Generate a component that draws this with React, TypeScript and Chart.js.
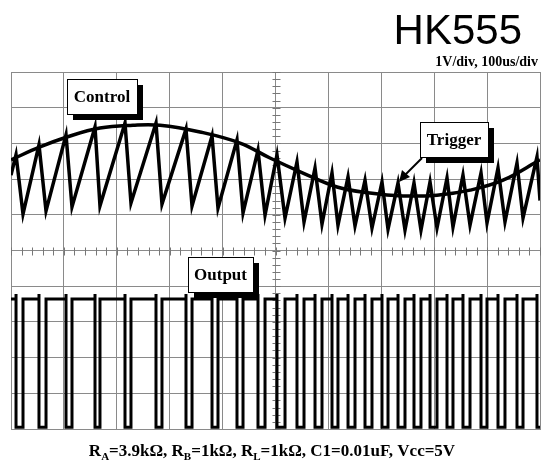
import React, { useEffect, useRef } from "react";
import { Chart, registerables } from "chart.js";

Chart.register(...registerables);

// ---- text ----
const titleText = "HK555";
const scaleText = "1V/div, 100us/div";
const captionParts: [string, boolean][] = [
  ["R", false], ["A", true], ["=3.9kΩ, R", false], ["B", true],
  ["=1kΩ, R", false], ["L", true], ["=1kΩ, C1=0.01uF, Vcc=5V", false],
];
const labelControl = "Control";
const labelTrigger = "Trigger";
const labelOutput = "Output";

// ---- axes (time in us, volts in V; 10 x 10 divisions) ----
const timeMin = 0;
const timeMax = 1000;
const timeStep = 100;
const voltMin = -5;
const voltMax = 5;
const voltStep = 1;

// ---- control (capacitor) sawtooth ----
const sawStartTime = 0;
const sawStartVolt = 2.11;
const peakTimes = [9.5, 52.9, 104.0, 158.8, 215.5, 274.1, 330.8, 380.0, 427.2, 466.9, 502.8, 540.6, 574.7, 606.8, 637.1, 669.2, 701.3, 731.6, 761.8, 792.1, 824.2, 854.4, 888.5, 920.6, 956.5, 994.3];
const peakVolts = [2.68, 2.96, 3.24, 3.46, 3.57, 3.57, 3.40, 3.21, 3.10, 2.81, 2.68, 2.48, 2.31, 2.17, 2.06, 1.97, 1.92, 1.89, 1.89, 1.92, 2.03, 2.11, 2.17, 2.31, 2.45, 2.62];
const troughTimes = [22.7, 66.2, 115.3, 168.2, 226.8, 285.4, 342.2, 391.3, 438.6, 480.2, 518.0, 553.9, 587.9, 618.1, 650.3, 682.4, 712.7, 744.8, 775.0, 805.3, 835.5, 867.7, 899.8, 933.8, 967.9, 1000];
const troughVolts = [1.02, 1.11, 1.22, 1.25, 1.33, 1.30, 1.25, 1.19, 1.05, 0.99, 0.91, 0.80, 0.74, 0.71, 0.69, 0.63, 0.60, 0.57, 0.57, 0.63, 0.66, 0.71, 0.77, 0.80, 0.91, 1.40];

// ---- control voltage (modulating input) ----
const envTimes = [0, 54.8, 105.9, 168.2, 230.6, 281.7, 357.3, 432.9, 489.6, 552.0, 616.3, 678.6, 741.0, 805.3, 867.7, 930.1, 1000];
const envVolts = [2.54, 2.90, 3.18, 3.43, 3.51, 3.51, 3.32, 3.01, 2.59, 2.17, 1.78, 1.61, 1.53, 1.55, 1.69, 1.97, 2.54];

// ---- output levels ----
const outHigh = -1.36;
const outLow = -4.95;
const outSpike = -1.22;

type P = { x: number; y: number };

function buildControl(): P[] {
  const pts: P[] = [{ x: sawStartTime, y: sawStartVolt }];
  for (let i = 0; i < peakTimes.length; i++) {
    pts.push({ x: peakTimes[i], y: peakVolts[i] });
    pts.push({ x: troughTimes[i], y: troughVolts[i] });
  }
  return pts;
}

function buildEnvelope(): P[] {
  return envTimes.map((t, i) => ({ x: t, y: envVolts[i] }));
}

function buildOutput(): P[] {
  const pts: P[] = [{ x: timeMin, y: outHigh }];
  for (let i = 0; i < peakTimes.length; i++) {
    const tf = peakTimes[i];
    pts.push({ x: tf, y: outHigh });
    pts.push({ x: tf, y: outSpike });
    pts.push({ x: tf, y: outLow });
    const tr = troughTimes[i];
    pts.push({ x: tr, y: outLow });
    if (tr < timeMax) pts.push({ x: tr, y: outHigh });
  }
  return pts;
}

const FONT_SERIF = '"Liberation Serif", "Times New Roman", serif';
const FONT_SANS = '"Liberation Sans", Arial, sans-serif';

function drawBox(ctx: CanvasRenderingContext2D, x: number, y: number, w: number, h: number, text: string) {
  ctx.save();
  ctx.fillStyle = "#000";
  ctx.fillRect(x + 6, y + 6, w, h);
  ctx.fillStyle = "#fff";
  ctx.fillRect(x, y, w, h);
  ctx.strokeStyle = "#000";
  ctx.lineWidth = 1;
  ctx.strokeRect(x + 0.5, y + 0.5, w, h);
  ctx.fillStyle = "#000";
  ctx.font = `bold 17px ${FONT_SERIF}`;
  ctx.textAlign = "center";
  ctx.textBaseline = "middle";
  ctx.fillText(text, x + w / 2, y + h / 2 + 1);
  ctx.restore();
}

const scopePlugin = {
  id: "scopeDecor",
  beforeDatasetsDraw(chart: any) {
    const ctx: CanvasRenderingContext2D = chart.ctx;
    const xs = chart.scales.x;
    const ys = chart.scales.y;
    const cx = Math.round(xs.getPixelForValue((timeMin + timeMax) / 2)) + 0.5;
    const cy = Math.round(ys.getPixelForValue((voltMin + voltMax) / 2)) + 0.5;
    ctx.save();
    ctx.strokeStyle = "#777";
    ctx.lineWidth = 1;
    ctx.beginPath();
    for (let t = timeMin; t <= timeMax; t += timeStep / 5) {
      const px = Math.round(xs.getPixelForValue(t)) + 0.5;
      ctx.moveTo(px, cy - 4);
      ctx.lineTo(px, cy + 4);
    }
    for (let k = 0; k <= 50; k++) {
      const v = voltMin + (k * voltStep) / 5;
      const py = Math.round(ys.getPixelForValue(v)) + 0.5;
      ctx.moveTo(cx - 4, py);
      ctx.lineTo(cx + 4, py);
    }
    ctx.stroke();
    ctx.restore();
  },
  afterDraw(chart: any) {
    const ctx: CanvasRenderingContext2D = chart.ctx;
    ctx.save();
    // title
    ctx.fillStyle = "#000";
    ctx.font = `42px ${FONT_SANS}`;
    ctx.textAlign = "right";
    ctx.textBaseline = "alphabetic";
    ctx.fillText(titleText, 522, 44);
    ctx.font = `bold 14px ${FONT_SERIF}`;
    ctx.fillText(scaleText, 538, 66);

    // caption with subscripts
    const mainFont = `bold 17px ${FONT_SERIF}`;
    const subFont = `bold 11px ${FONT_SERIF}`;
    let total = 0;
    for (const [s, sub] of captionParts) {
      ctx.font = sub ? subFont : mainFont;
      total += ctx.measureText(s).width;
    }
    let x = 272 - total / 2;
    const base = 456;
    ctx.textAlign = "left";
    for (const [s, sub] of captionParts) {
      ctx.font = sub ? subFont : mainFont;
      ctx.fillText(s, x, sub ? base + 4 : base);
      x += ctx.measureText(s).width;
    }

    // labels
    drawBox(ctx, 67, 79, 70, 35, labelControl);
    drawBox(ctx, 420, 122, 68, 35, labelTrigger);
    drawBox(ctx, 188, 257, 65, 35, labelOutput);

    // trigger arrow
    ctx.strokeStyle = "#000";
    ctx.fillStyle = "#000";
    ctx.lineWidth = 2;
    ctx.beginPath();
    ctx.moveTo(422, 158);
    ctx.lineTo(405, 175);
    ctx.stroke();
    ctx.beginPath();
    ctx.moveTo(399, 182);
    ctx.lineTo(402, 170);
    ctx.lineTo(410, 177);
    ctx.closePath();
    ctx.fill();
    ctx.restore();
  },
};

export default function App() {
  const ref = useRef<HTMLCanvasElement | null>(null);
  useEffect(() => {
    if (!ref.current) return;
    const gridColor = "#8a8a8a";
    const chart = new Chart(ref.current, {
      type: "line",
      data: {
        datasets: [
          {
            label: "Control voltage",
            data: buildEnvelope(),
            borderColor: "#000",
            borderWidth: 3.5,
            pointRadius: 0,
            tension: 0.4,
            fill: false,
          },
          {
            label: "Trigger / threshold",
            data: buildControl(),
            borderColor: "#000",
            borderWidth: 3.5,
            pointRadius: 0,
            tension: 0,
            fill: false,
          },
          {
            label: "Output",
            data: buildOutput(),
            borderColor: "#000",
            borderWidth: 3,
            pointRadius: 0,
            tension: 0,
            fill: false,
          },
        ],
      },
      options: {
        responsive: false,
        animation: false,
        devicePixelRatio: 1,
        layout: { padding: { left: 11, top: 72, right: 3, bottom: 40 } },
        plugins: { legend: { display: false }, tooltip: { enabled: false } },
        scales: {
          x: {
            type: "linear",
            min: timeMin,
            max: timeMax,
            ticks: { display: false, stepSize: timeStep },
            grid: { color: gridColor, lineWidth: 1, drawTicks: false },
            border: { color: gridColor, width: 1 },
          },
          y: {
            type: "linear",
            min: voltMin,
            max: voltMax,
            ticks: { display: false, stepSize: voltStep },
            grid: { color: gridColor, lineWidth: 1, drawTicks: false },
            border: { color: gridColor, width: 1 },
          },
        },
      },
      plugins: [scopePlugin],
    });
    return () => chart.destroy();
  }, []);
  return (
    <div style={{ position: "fixed", left: 0, top: 0, width: 543, height: 469, background: "#fff" }}>
      <canvas ref={ref} width={543} height={469} style={{ width: 543, height: 469, display: "block" }} />
    </div>
  );
}
